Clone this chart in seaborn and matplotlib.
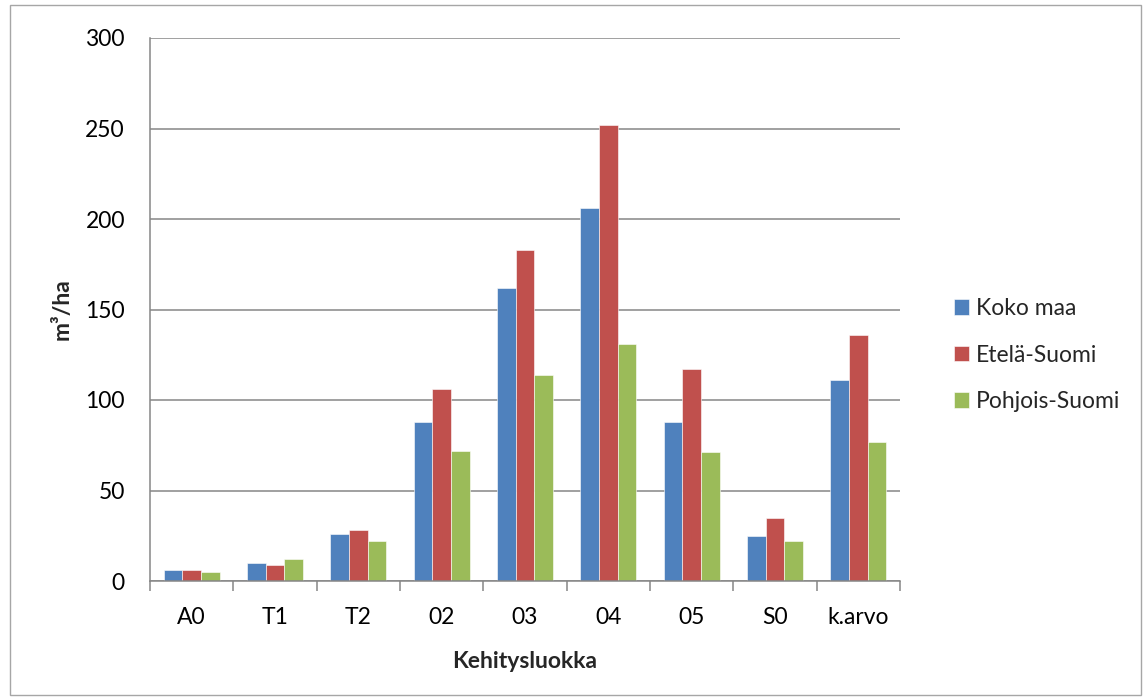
import matplotlib
matplotlib.use("Agg")
import matplotlib.pyplot as plt
from matplotlib.patches import Rectangle
from matplotlib.ticker import FixedLocator
import pandas as pd
import seaborn as sns

categories = ["A0", "T1", "T2", "02", "03", "04", "05", "S0", "k.arvo"]
koko_maa = [6, 10, 26, 88, 162, 206, 88, 25, 111]
etela_suomi = [6, 9, 28, 106, 183, 252, 117, 35, 136]
pohjois_suomi = [5, 12, 22, 72, 114, 131, 71, 22, 77]
series_names = ["Koko maa", "Etelä-Suomi", "Pohjois-Suomi"]
colors = ["#4F81BD", "#C0504D", "#9BBB59"]
y_ticks = [0, 50, 100, 150, 200, 250, 300]

df = pd.DataFrame({
    "Kehitysluokka": categories * 3,
    "value": koko_maa + etela_suomi + pohjois_suomi,
    "series": [s for s in series_names for _ in categories],
})

sns.set_theme(style="white")
plt.rcParams["font.family"] = ["Lato", "DejaVu Sans"]

FS = 16.5

fig = plt.figure(figsize=(11.44, 7.0), dpi=100)
ax = fig.add_axes([150 / 1144, 1 - 581 / 700, 750 / 1144, 543 / 700])

sns.barplot(data=df, x="Kehitysluokka", y="value", hue="series",
            hue_order=series_names, palette=colors, width=0.67,
            saturation=1, edgecolor="white", linewidth=0.4, ax=ax,
            legend=True)

grid_color = "#868686"
ax.set_ylim(0, 300)
ax.set_xlim(-0.5, len(categories) - 0.5)
ax.set_yticks(y_ticks)
ax.yaxis.grid(True, color=grid_color, linewidth=1.1)
ax.set_axisbelow(True)
for side in ["top", "right"]:
    ax.spines[side].set_visible(False)
for side in ["left", "bottom"]:
    ax.spines[side].set_color(grid_color)
    ax.spines[side].set_linewidth(1.1)

ax.tick_params(axis="y", which="major", direction="out", length=6,
               color=grid_color, width=1.1, labelsize=FS, pad=12,
               labelcolor="black")
ax.tick_params(axis="x", which="major", length=0, labelsize=FS, pad=19,
               labelcolor="black")
ax.xaxis.set_minor_locator(FixedLocator([i - 0.5 for i in range(len(categories) + 1)]))
ax.tick_params(axis="x", which="minor", direction="out", length=7,
               color=grid_color, width=1.1, bottom=True)

ax.set_xlabel("Kehitysluokka", fontsize=FS, fontweight="bold", labelpad=16)
ax.set_ylabel("m³/ha", fontsize=FS, fontweight="bold", labelpad=9)

handles, labels = ax.get_legend_handles_labels()
ax.legend(handles, labels, loc="center left", bbox_to_anchor=(933 / 1144, 1 - 355 / 700),
          bbox_transform=fig.transFigure, frameon=False, fontsize=FS,
          handlelength=0.68, handleheight=0.68, handletextpad=0.3,
          labelspacing=1.12)

fig.patches.append(Rectangle((10 / 1144, 5 / 700), 1131 / 1144, 690 / 700,
                             transform=fig.transFigure, fill=False,
                             edgecolor="#A6A6A6", linewidth=1.0))

fig.savefig("out.png", dpi=100, facecolor="white")
